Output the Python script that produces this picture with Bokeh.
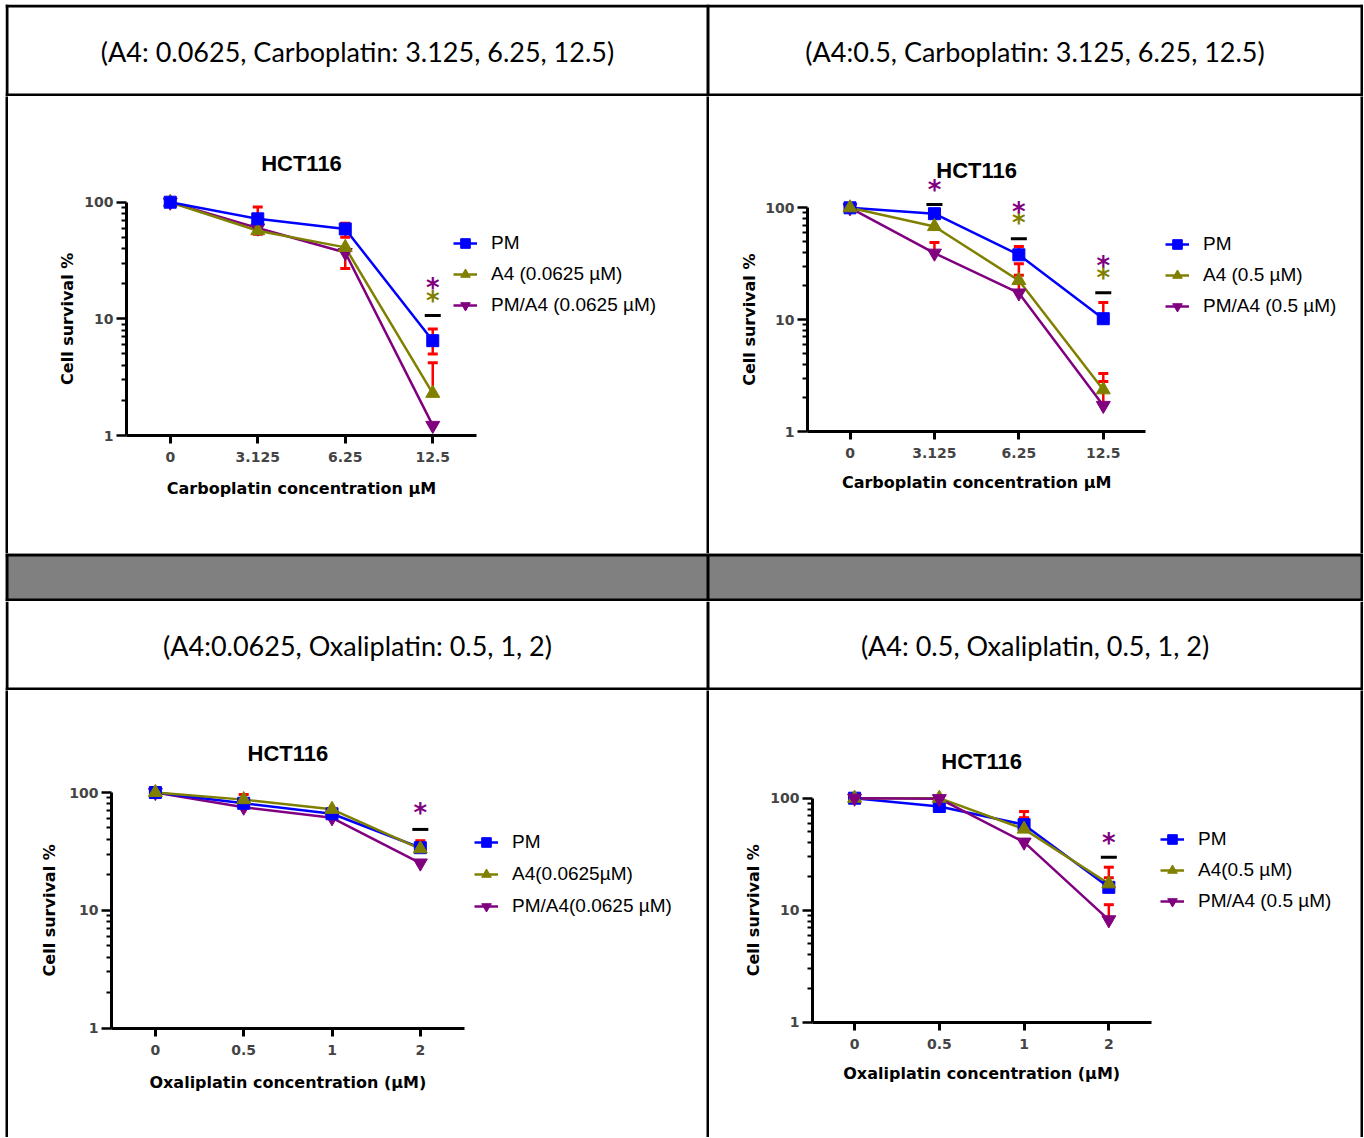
import math
from bokeh.plotting import figure
from bokeh.layouts import column, row
from bokeh.models import (Range1d, FixedTicker, NumeralTickFormatter, Legend, LegendItem, Spacer,
                          LinearAxis, LogAxis)
from bokeh.core.properties import value
from bokeh.embed import file_html
from bokeh.resources import INLINE
from bokeh.core.validation import silence
from bokeh.core.validation.warnings import MISSING_RENDERERS

silence(MISSING_RENDERERS, True)

# ---------------- data ----------------
carbo_conc = ["0", "3.125", "6.25", "12.5"]
oxali_conc = ["0", "0.5", "1", "2"]
y_major = [1, 10, 100]

cell_titles = [
    "(A4: 0.0625, Carboplatin: 3.125, 6.25, 12.5)",
    "(A4:0.5, Carboplatin: 3.125, 6.25, 12.5)",
    "(A4:0.0625, Oxaliplatin: 0.5, 1, 2)",
    "(A4: 0.5, Oxaliplatin, 0.5, 1, 2)",
]

# panel A : carboplatin + A4 0.0625 uM
a_pm = [100, 72, 59, 6.5]
a_a4 = [100, 57, 41, 2.3]
a_combo = [100, 60, 37, 1.22]
a_labels = ["PM", "A4 (0.0625 µM)", "PM/A4 (0.0625 µM)"]
a_err = [("pm", 1, 91), ("pm", 1, 53), ("pm", 2, 66), ("pm", 2, 50), ("combo", 2, 27),
         ("pm", 3, 8.2), ("pm", 3, 5.0), ("a4", 3, 4.2)]
a_bar = [(3, 10.7)]
a_star = [(3, 15.1, "a4"), (3, 19.7, "combo")]

# panel B : carboplatin + A4 0.5 uM
b_pm = [100, 88.6, 38, 10.2]
b_a4 = [100, 68, 22.4, 2.36]
b_combo = [100, 39.3, 17.3, 1.71]
b_labels = ["PM", "A4 (0.5 µM)", "PM/A4 (0.5 µM)"]
b_err = [("pm", 1, 82), ("combo", 1, 49), ("pm", 2, 45), ("a4", 2, 31.6), ("combo", 2, 25),
         ("pm", 3, 14.2), ("a4", 3, 3.3), ("combo", 3, 2.8)]
b_bar = [(1, 107), (2, 53), (3, 17.4)]
b_star = [(1, 153, "combo"), (2, 77, "a4"), (2, 98, "combo"), (3, 25.2, "a4"), (3, 32.3, "combo")]

# panel C : oxaliplatin + A4 0.0625 uM
c_pm = [100, 81, 66, 34]
c_a4 = [100, 87, 72, 33.3]
c_combo = [100, 75, 61, 25.2]
c_labels = ["PM", "A4(0.0625µM)", "PM/A4(0.0625 µM)"]
c_err = [("a4", 1, 96), ("pm", 3, 39)]
c_bar = [(3, 48.6)]
c_star = [(3, 70.5, "combo")]

# panel D : oxaliplatin + A4 0.5 uM
d_pm = [100, 84.3, 58, 16]
d_a4 = [100, 100, 53, 17.2]
d_combo = [100, 99, 40.5, 8.2]
d_labels = ["PM", "A4(0.5 µM)", "PM/A4 (0.5 µM)"]
d_err = [("pm", 2, 76), ("a4", 2, 67), ("pm", 3, 24.2), ("a4", 3, 19.5), ("combo", 3, 11.2)]
d_bar = [(3, 29.7)]
d_star = [(3, 42.5, "combo")]

# ---------------- styles / geometry ----------------
COLORS = {"pm": "#0000FF", "a4": "#808000", "combo": "#800080"}
MARKERS = {"pm": ("square", 12), "a4": ("triangle", 14), "combo": ("inverted_triangle", 14)}
AX_FONT = "DejaVu Sans"
LW = 3
W_L, W_R = 698, 651
TABLE_W = LW + W_L + LW + W_R + LW
H_C1, H_C2 = 457, 447


def deco_row(h, fill, top_line, bottom_line, texts=(), text_y=0):
    """Full-width table row: cell fill, black rules, optional centred cell texts."""
    f = figure(width=TABLE_W, height=h, x_range=Range1d(0, TABLE_W), y_range=Range1d(h, 0),
               toolbar_location=None, output_backend="svg", min_border=0,
               title_location=None, x_axis_location=None, y_axis_location=None,
               background_fill_color=fill, border_fill_color=fill, outline_line_color=None)
    f.grid.visible = False
    edges = [0, LW + W_L, TABLE_W - LW]
    ql, qr, qt, qb = [], [], [], []
    for e in edges:
        ql.append(e); qr.append(e + LW); qt.append(0); qb.append(h)
    if top_line:
        ql.append(0); qr.append(TABLE_W); qt.append(0); qb.append(LW)
    if bottom_line:
        ql.append(0); qr.append(TABLE_W); qt.append(h - LW); qb.append(h)
    f.quad(left=ql, right=qr, top=qt, bottom=qb, fill_color="black", line_color=None)
    if texts:
        centers = [(LW + LW + W_L) / 2, (LW + W_L + LW + TABLE_W - LW) / 2]
        f.text(x=centers, y=[text_y] * 2, text=list(texts), text_font=value("Lato"),
               text_font_size="27px", text_color="black", text_align="center",
               text_baseline="middle")
    return f


def vline(h):
    f = figure(width=LW, height=h, x_range=Range1d(0, 1), y_range=Range1d(0, 1),
               toolbar_location=None, output_backend="svg", min_border=0,
               title_location=None, x_axis_location=None, y_axis_location=None,
               background_fill_color="black", border_fill_color="black",
               outline_line_color=None, frame_align=False)
    f.grid.visible = False
    return f


def title_axis(axis, tick, text, standoff, orientation=None):
    """Second, line-less axis whose single tick label acts as the axis title,
    centred on the drawn axis extent rather than on the (wider) frame."""
    axis.ticker = FixedTicker(ticks=[tick])
    axis.major_label_overrides = {tick: text}
    axis.axis_line_color = None
    axis.major_tick_line_color = None
    axis.minor_tick_line_color = None
    axis.major_tick_out = 0
    axis.major_tick_in = 0
    axis.minor_tick_out = 0
    axis.minor_tick_in = 0
    axis.major_label_standoff = standoff
    axis.major_label_text_font = AX_FONT
    axis.major_label_text_font_style = "bold"
    axis.major_label_text_font_size = "16px"
    axis.major_label_text_color = "black"
    if orientation is not None:
        axis.major_label_orientation = orientation
    return axis


def chart(conc, series, labels, errs, bars, stars, xlabel, g, order):
    cell_left, cell_top, cell_w, cell_h = g["cell"]
    axis_left, axis_right, y100, y1 = g["axis"]
    mb_left = int(round(axis_left - cell_left))
    mb_right = 4
    mb_top = 28
    mb_bottom = int(round(cell_top + cell_h - y1))
    f_left = cell_left + mb_left
    f_right = cell_left + cell_w - mb_right
    f_top = cell_top + mb_top
    f_bottom = cell_top + cell_h - mb_bottom
    unit = (axis_right - axis_left) / len(conc)
    decade = (y1 - y100) / 2.0
    x0 = (f_left - axis_left) / unit - 0.5
    x1 = (f_right - axis_left) / unit - 0.5
    ys = 10 ** ((y1 - f_bottom) / decade)
    ye = 10 ** ((y1 - f_top) / decade)

    p = figure(width=cell_w, height=cell_h, x_range=Range1d(x0, x1), y_range=Range1d(ys, ye),
               y_axis_type="log", toolbar_location=None, output_backend="svg",
               title_location=None, min_border_left=mb_left, min_border_right=mb_right,
               min_border_top=mb_top, min_border_bottom=mb_bottom,
               outline_line_color=None, background_fill_color="white", frame_align=False)
    p.grid.visible = False
    xs = list(range(len(conc)))
    x_mid = (len(conc) - 1) / 2

    xa = p.xaxis[0]
    xa.bounds = (-0.5, len(conc) - 0.5)
    xa.ticker = FixedTicker(ticks=xs)
    xa.major_label_overrides = {i: c for i, c in enumerate(conc)}
    xa.minor_tick_line_color = None
    xa.major_tick_out = 8
    xa.major_tick_in = 0
    xa.major_tick_line_width = 3
    xa.axis_line_width = 3
    xa.major_label_text_font = AX_FONT
    xa.major_label_text_font_style = "bold"
    xa.major_label_text_font_size = "14px"
    xa.major_label_standoff = 8

    ya = p.yaxis[0]
    ya.bounds = (1, 100)
    ya.ticker = FixedTicker(ticks=y_major,
                            minor_ticks=[k * d for d in y_major[:-1] for k in range(2, 10)])
    ya.formatter = NumeralTickFormatter(format="0")
    ya.major_tick_out = 10
    ya.major_tick_in = 0
    ya.major_tick_line_width = 2.5
    ya.minor_tick_out = 5
    ya.minor_tick_in = 0
    ya.minor_tick_line_width = 2
    ya.axis_line_width = 3
    ya.major_label_text_font = AX_FONT
    ya.major_label_text_font_style = "bold"
    ya.major_label_text_font_size = "14px"
    ya.major_label_standoff = 3

    # axis titles as outer, line-less axes (centred on the plotted axis extent)
    p.add_layout(title_axis(LinearAxis(), x_mid, xlabel, g["xlabel_sd"]), "below")
    p.add_layout(title_axis(LogAxis(), 10, "Cell survival %", g["ylabel_sd"], "vertical"), "left")

    ty = 100 * 10 ** ((y100 - g["title_y"]) / decade)
    p.text(x=[x_mid], y=[ty], text=["HCT116"], text_font=value("Liberation Sans"),
           text_font_style="bold", text_font_size="22px", text_color="black",
           text_align="center", text_baseline="middle")

    line_r, mark_r = {}, {}
    for key in order:
        line_r[key] = p.line(xs, series[key], line_color=COLORS[key], line_width=2.5)

    ex = [e[1] for e in errs]
    e0 = [series[e[0]][e[1]] for e in errs]
    e1 = [e[2] for e in errs]
    if errs:
        p.segment(x0=ex, y0=e0, x1=ex, y1=e1, line_color="#FF0000", line_width=2.5)
        p.scatter(ex, e1, marker="dash", size=10, line_color="#FF0000", line_width=3)

    for key in order:
        m, s = MARKERS[key]
        mark_r[key] = p.scatter(xs, series[key], marker=m, size=s, fill_color=COLORS[key],
                                line_color=COLORS[key])

    p.scatter([b[0] for b in bars], [b[1] for b in bars], marker="dash", size=16,
              line_color="black", line_width=3)
    p.text(x=[s[0] for s in stars], y=[s[1] for s in stars], text=["*"] * len(stars),
           text_color=[COLORS[s[2]] for s in stars], text_font=value(AX_FONT),
           text_font_style="bold", text_font_size="26px", text_align="center",
           text_baseline="middle", y_offset=3)

    gx, gy = g["legend"]
    row_h, sp = 28, g["legend_sp"]
    leg_h = 3 * row_h + 2 * sp
    items = [LegendItem(label=lab, renderers=[line_r[k], mark_r[k]])
             for lab, k in zip(labels, ["pm", "a4", "combo"])]
    leg = Legend(items=items, location=(gx - f_left, f_bottom - (gy - row_h / 2 + leg_h)),
                 glyph_width=24, glyph_height=row_h, label_height=row_h, spacing=sp,
                 label_standoff=14, padding=0, margin=0, border_line_color=None,
                 background_fill_alpha=0, label_text_font="Liberation Sans",
                 label_text_font_size="19px", label_text_color="black")
    p.add_layout(leg)
    return p


# absolute page geometry (px)
geo_a = {"cell": (8, 96, W_L, H_C1), "axis": (126, 476, 201.7, 435), "title_y": 163,
         "legend": (453, 243), "legend_sp": 3, "xlabel_sd": 14, "ylabel_sd": 4}
geo_b = {"cell": (709, 96, W_R, H_C1), "axis": (807.3, 1145, 207.3, 431), "title_y": 170,
         "legend": (1165, 244), "legend_sp": 3, "xlabel_sd": 12, "ylabel_sd": 3}
geo_c = {"cell": (8, 690, W_L, H_C2), "axis": (110.7, 464, 792, 1027.7), "title_y": 752.7,
         "legend": (474, 842), "legend_sp": 4, "xlabel_sd": 15, "ylabel_sd": 7}
geo_d = {"cell": (709, 690, W_R, H_C2), "axis": (811.7, 1150.7, 797.7, 1021.7), "title_y": 760.7,
         "legend": (1160, 839), "legend_sp": 3, "xlabel_sd": 12, "ylabel_sd": 4}

pa = chart(carbo_conc, {"pm": a_pm, "a4": a_a4, "combo": a_combo}, a_labels, a_err, a_bar, a_star,
           "Carboplatin concentration µM", geo_a, ["combo", "a4", "pm"])
pb = chart(carbo_conc, {"pm": b_pm, "a4": b_a4, "combo": b_combo}, b_labels, b_err, b_bar, b_star,
           "Carboplatin concentration µM", geo_b, ["combo", "pm", "a4"])
pc = chart(oxali_conc, {"pm": c_pm, "a4": c_a4, "combo": c_combo}, c_labels, c_err, c_bar, c_star,
           "Oxaliplatin concentration (µM)", geo_c, ["combo", "pm", "a4"])
pd = chart(oxali_conc, {"pm": d_pm, "a4": d_a4, "combo": d_combo}, d_labels, d_err, d_bar, d_star,
           "Oxaliplatin concentration (µM)", geo_d, ["pm", "a4", "combo"])


def chart_row(left, right, h):
    return row(vline(h), left, vline(h), right, vline(h))


table = column(
    deco_row(92, "white", True, True, cell_titles[:2], 47),
    chart_row(pa, pb, H_C1),
    deco_row(48, "#808080", True, True),
    deco_row(89, "white", False, True, cell_titles[2:], 44),
    chart_row(pc, pd, H_C2),
)

layout = column(Spacer(width=1, height=4), row(Spacer(width=5, height=1), table))

open("out.html", "w").write(file_html(layout, INLINE))
